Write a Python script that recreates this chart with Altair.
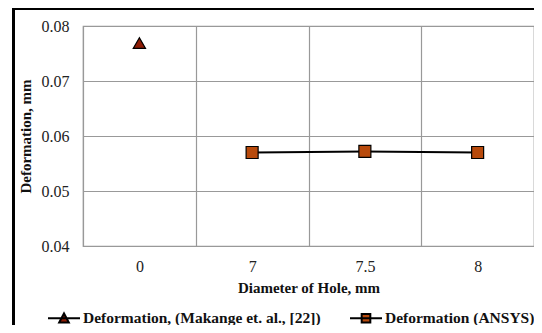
import altair as alt
import pandas as pd

categories = ["0", "7", "7.5", "8"]
makange_x = ["0"]
makange_y = [0.0769]
ansys_x = ["7", "7.5", "8"]
ansys_y = [0.0570, 0.0572, 0.0570]
series_names = ["Deformation, (Makange et. al., [22])", "Deformation (ANSYS)"]
series_colors = ["#8e1c05", "#b84a0c"]
y_ticks = [0.04, 0.05, 0.06, 0.07, 0.08]

FONT = "Times New Roman, Liberation Serif, serif"
XLABEL_FONT = "'Liberation Serif'"
YLABEL_FONT = "serif"

df = pd.DataFrame({
    "dia": makange_x + ansys_x,
    "def": makange_y + ansys_y,
    "series": [series_names[0]] * len(makange_x) + [series_names[1]] * len(ansys_x),
})
ansys_df = pd.DataFrame({"dia": ansys_x, "def": ansys_y})

x_scale = alt.Scale(type="band", domain=categories, paddingInner=0, paddingOuter=0)
y_scale = alt.Scale(domain=[0.04, 0.08], nice=False, zero=False)

axis_style = dict(
    labelFontSize=16, labelColor="#222",
    titleFont=FONT, titleFontSize=15, titleFontWeight="bold", titleColor="#111",
    gridColor="#999", gridWidth=1.2,
)
x_axis = alt.Axis(
    title="Diameter of Hole, mm", tickBand="extent", grid=True, ticks=False, tickSize=0,
    domain=False, labelAngle=0, labelPadding=12, titlePadding=6,
    labelFont=XLABEL_FONT, **axis_style,
)
y_axis = alt.Axis(
    title="Deformation, mm", values=y_ticks, format=".2f", grid=True, ticks=False,
    tickSize=0, domain=False, labelPadding=14, titlePadding=8,
    labelFont=YLABEL_FONT, **axis_style,
)

line = alt.Chart(ansys_df).mark_line(color="black", strokeWidth=2).encode(
    x=alt.X("dia:N", scale=x_scale, axis=x_axis),
    y=alt.Y("def:Q", scale=y_scale, axis=y_axis),
)

points = alt.Chart(df).mark_point(filled=True, stroke="black", strokeWidth=1.2, opacity=1).encode(
    x=alt.X("dia:N", scale=x_scale, axis=x_axis),
    y=alt.Y("def:Q", scale=y_scale, axis=y_axis),
    shape=alt.Shape("series:N", scale=alt.Scale(domain=series_names, range=["triangle-up", "square"]), legend=None),
    fill=alt.Fill("series:N", scale=alt.Scale(domain=series_names, range=series_colors), legend=None),
    size=alt.Size("series:N", scale=alt.Scale(domain=series_names, range=[150, 144]), legend=None),
)

legend_paths = [
    "M-1,0H1M-0.3,0.26L0,-0.3L0.3,0.26Z",
    "M-1,0H1M-0.27,-0.27H0.27V0.27H-0.27Z",
]
leg = alt.Legend(
    title=None, orient="none", direction="horizontal", legendX=-36, legendY=275,
    labelFont=FONT, labelFontSize=15.5, labelFontWeight="bold", labelColor="#111",
    symbolSize=1024, symbolStrokeColor="black", symbolStrokeWidth=2,
    labelOffset=2, columnPadding=25, padding=0, labelLimit=400,
)
legend_layer = alt.Chart(df).transform_filter("false").mark_point(
    filled=True, strokeWidth=2, opacity=1
).encode(
    shape=alt.Shape("series:N", scale=alt.Scale(domain=series_names, range=legend_paths), legend=leg),
    fill=alt.Fill("series:N", scale=alt.Scale(domain=series_names, range=series_colors), legend=leg),
    stroke=alt.Stroke("series:N", scale=alt.Scale(domain=series_names, range=["black", "black"]), legend=leg),
)

border = alt.Chart(pd.DataFrame({"a": [0]})).mark_rect(
    fillOpacity=0, stroke="black", strokeWidth=3
).encode(
    x=alt.value(-69.5), x2=alt.value(480), y=alt.value(-17.5), y2=alt.value(330)
)

chart = alt.layer(border, line, points, legend_layer).resolve_scale(
    shape="independent", fill="independent", size="independent", stroke="independent"
).resolve_legend(shape="independent", fill="independent", stroke="independent").properties(
    width=451, height=220,
    background="white",
    autosize=alt.AutoSizeParams(type="none"),
    padding={"left": 75, "top": 18, "right": 0, "bottom": 79},
).configure_view(stroke="#999", strokeWidth=1.2).configure_axis(
    **axis_style
).configure_legend(
    labelFont=FONT, labelFontSize=15.5, labelFontWeight="bold",
)

chart.save("out.html", embed_options={"renderer": "svg", "actions": False})
